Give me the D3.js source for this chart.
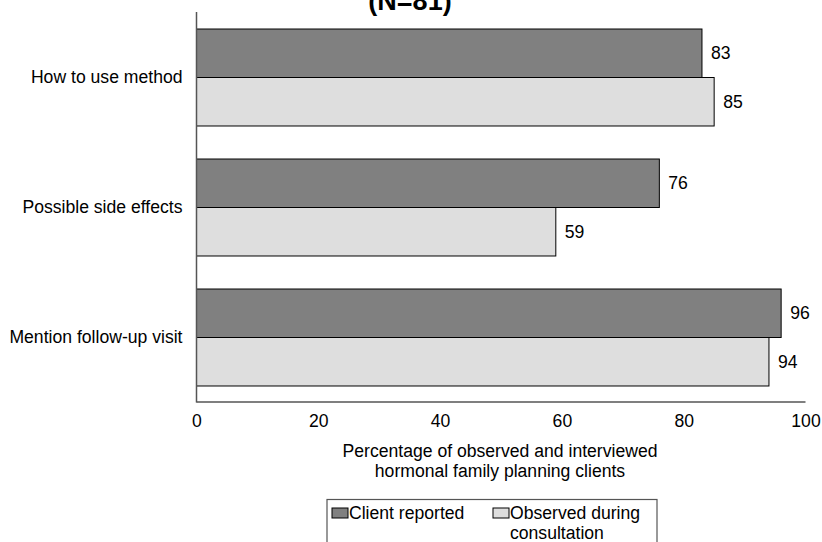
<!DOCTYPE html>
<html>
<head>
<meta charset="utf-8">
<script src="https://cdn.jsdelivr.net/npm/d3@7"></script>
<style>
  html, body { margin: 0; padding: 0; background: #fff; }
  svg { display: block; font-family: "Liberation Sans", Arial, sans-serif; }
</style>
</head>
<body>
<svg id="chart" width="822" height="542"></svg>
<script>
const categories = ["How to use method", "Possible side effects", "Mention follow-up visit"];
const seriesNames = ["Client reported", "Observed during consultation"];
const clientReported = [83, 76, 96];
const observedDuring = [85, 59, 94];
const xTicks = [0, 20, 40, 60, 80, 100];
const titleText = "(N=81)";
const axisTitle = ["Percentage of observed and interviewed", "hormonal family planning clients"];
const colors = ["#808080", "#dedede"];

const FS = 17.6;
const svg = d3.select("#chart");
const x = d3.scaleLinear().domain([0, 100]).range([196.5, 805.5]);
const y = d3.scaleBand().domain(categories).range([12.5, 402.5]).paddingInner(0.254).paddingOuter(0.127);
const ySub = d3.scaleBand().domain(seriesNames).range([0, y.bandwidth()]);

const data = categories.map((c, i) => ({ cat: c, vals: [clientReported[i], observedDuring[i]] }));

// Title
svg.append("text").attr("x", 410).attr("y", 10).attr("text-anchor", "middle")
  .attr("font-weight", "bold").attr("font-size", 27).text(titleText);

// Bars
const g = svg.append("g");
data.forEach(d => {
  d.vals.forEach((v, j) => {
    const by = y(d.cat) + ySub(seriesNames[j]);
    g.append("rect")
      .attr("x", x(0)).attr("y", by)
      .attr("width", x(v) - x(0)).attr("height", ySub.bandwidth())
      .attr("fill", colors[j]).attr("stroke", "#000").attr("stroke-width", 1);
    g.append("text")
      .attr("x", x(v) + 9).attr("y", by + ySub.bandwidth() / 2)
      .attr("dy", "0.35em").attr("font-size", FS).attr("fill", "#000")
      .text(v);
  });
});

// Y axis
const yAxis = d3.axisLeft(y).tickSize(0).tickPadding(14);
const yg = svg.append("g").attr("transform", `translate(${x(0)},0)`).call(yAxis);
yg.select(".domain").remove();
yg.selectAll("text").attr("font-size", FS).attr("font-family", "Liberation Sans, Arial, sans-serif").attr("fill", "#000");
svg.append("line").attr("x1", x(0)).attr("x2", x(0)).attr("y1", 12).attr("y2", 402.5)
  .attr("stroke", "#555").attr("stroke-width", 1.5);

// X axis
const xAxis = d3.axisBottom(x).tickValues(xTicks).tickSize(0).tickPadding(13);
const xg = svg.append("g").attr("transform", "translate(0,402)").call(xAxis);
xg.select(".domain").remove();
xg.selectAll("text").attr("font-size", FS).attr("font-family", "Liberation Sans, Arial, sans-serif").attr("fill", "#000");
svg.append("line").attr("x1", x(0)).attr("x2", x(100)).attr("y1", 402).attr("y2", 402)
  .attr("stroke", "#555").attr("stroke-width", 1.5);

// Axis title
axisTitle.forEach((t, i) => {
  svg.append("text").attr("x", 500).attr("y", 451 + i * 20).attr("dy", "0.35em")
    .attr("text-anchor", "middle").attr("font-size", FS).text(t);
});

// Legend
const lg = svg.append("g");
lg.append("rect").attr("x", 327).attr("y", 499.5).attr("width", 330).attr("height", 60)
  .attr("fill", "#fff").attr("stroke", "#555").attr("stroke-width", 1.2);
const legendItems = [
  { name: seriesNames[0], lines: ["Client reported"], sx: 332, tx: 349 },
  { name: seriesNames[1], lines: ["Observed during", "consultation"], sx: 493, tx: 510 }
];
legendItems.forEach((it, j) => {
  lg.append("rect").attr("x", it.sx).attr("y", 508).attr("width", 16).attr("height", 10)
    .attr("fill", colors[j]).attr("stroke", "#000").attr("stroke-width", 1);
  it.lines.forEach((ln, k) => {
    lg.append("text").attr("x", it.tx).attr("y", 513 + k * 20).attr("dy", "0.35em")
      .attr("font-size", FS).text(ln);
  });
});
</script>
</body>
</html>
